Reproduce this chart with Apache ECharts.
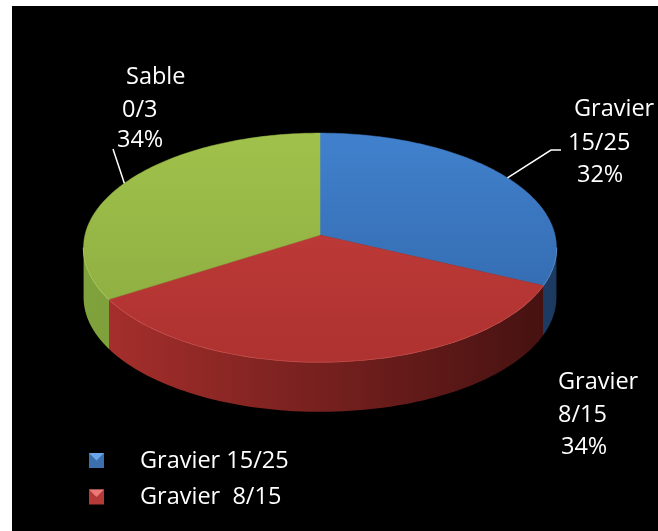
<!DOCTYPE html>
<html><head><meta charset="utf-8">
<script src="https://cdn.jsdelivr.net/npm/echarts@6/dist/echarts.min.js"></script>
<style>html,body{margin:0;padding:0;background:#fff}#c{width:658px;height:531px}</style>
</head><body><div id="c"></div>
<script>
// ---- data ----
const categories = ['Gravier 15/25', 'Gravier  8/15', 'Sable 0/3'];
const values = [32, 34, 34];
const legendItems = ['Gravier 15/25', 'Gravier  8/15'];

// ---- styles ----
const topColors = [['#4181cd', '#2f64a6'], ['#c63f3c', '#ae3230'], ['#a0c24b', '#8aa93f']];
const sideColors = [['#3a6aa8', '#1c3a60'], ['#aa302d', '#431110'], ['#80a23c', '#6d8a32']];
const rimColors = ['#6c9edc', '#d45f5c', '#b3d16a'];
const legendColors = [['#6aa6ec', '#3b6fae'], ['#ea7a77', '#b63a38']];

// ---- layout ----
const CX = 320, CY = 235, A = 235, B = 113, K = 0.109, D = 50;
const labelPos = [
  [[574, 109], [568, 143], [577, 175]],
  [[558, 382], [558, 415], [561, 447]],
  [[126, 77], [122, 110], [117, 140]]
];
const leaderEnds = [[[551, 150], [561, 150]], null, [[113, 149]]];
const FONT = '23.5px "Open Sans", sans-serif';

const total = values.reduce((a, b) => a + b, 0);
function proj(t) { const u = Math.cos(t), v = Math.sin(t), w = 1 - K * v; return [CX + A * u / w, CY + B * v / w]; }
function angles(i) {
  let c = 0; for (let j = 0; j < i; j++) c += values[j];
  const a0 = -Math.PI / 2 + 2 * Math.PI * c / total;
  return [a0, a0 + 2 * Math.PI * values[i] / total];
}
function arc(a0, a1, n) { const p = []; for (let k = 0; k <= n; k++) p.push(proj(a0 + (a1 - a0) * k / n)); return p; }

function renderSide(params, api) {
  const i = params.dataIndex; const [a0, a1] = angles(i);
  const lo = Math.max(a0, Math.asin(K)), hi = Math.min(a1, Math.PI - Math.asin(K));
  if (hi <= lo) return null;
  const top = arc(lo, hi, 80);
  const bot = top.slice().reverse().map(p => [p[0], p[1] + D]);
  return {
    type: 'group', children: [
      { type: 'polygon', shape: { points: top.concat(bot) },
        style: { fill: new echarts.graphic.LinearGradient(84, 0, 557, 0, [{ offset: 0, color: sideColors[i][0] }, { offset: 1, color: sideColors[i][1] }], true) } },
      { type: 'polyline', shape: { points: top }, style: { stroke: rimColors[i], lineWidth: 1.5, fill: null } }
    ]
  };
}

function renderTop(params, api) {
  const i = params.dataIndex; const [a0, a1] = angles(i);
  const pts = [[CX, CY]].concat(arc(a0, a1, 120));
  const grad = new echarts.graphic.LinearGradient(0, 133, 0, 362, [{ offset: 0, color: topColors[i][0] }, { offset: 1, color: topColors[i][1] }], true);
  const children = [{ type: 'polygon', shape: { points: pts }, style: { fill: grad, stroke: grad, lineWidth: 0.5 } }];
  const parts = categories[i].trim().split(/\s+/);
  const lines = parts.concat([Math.round(api.value(0) / total * 100) + '%']);
  lines.forEach((t, k) => {
    children.push({ type: 'text', x: labelPos[i][k][0], y: labelPos[i][k][1],
      style: { text: t, font: FONT, fill: '#ffffff', align: 'left', verticalAlign: 'middle' } });
  });
  if (leaderEnds[i]) {
    const start = proj((a0 + a1) / 2);
    children.push({ type: 'polyline', shape: { points: [start].concat(leaderEnds[i]) },
      style: { stroke: '#ffffff', lineWidth: 1.5, fill: null } });
  }
  return { type: 'group', children };
}

const seriesData = categories.map((c, i) => ({ name: c, value: values[i] }));

const legendEls = [];
legendItems.forEach((name, i) => {
  const y = 453 + 36.5 * i;
  legendEls.push({ type: 'rect', z: 100, shape: { x: 89, y: y, width: 15, height: 15 }, style: { fill: legendColors[i][1] } });
  legendEls.push({ type: 'polygon', z: 101, shape: { points: [[89, y], [104, y], [96.5, y + 7.5]] }, style: { fill: legendColors[i][0] } });
  legendEls.push({ type: 'text', z: 100, x: 140, y: y + 8, style: { text: name, font: FONT, fill: '#ffffff', align: 'left', verticalAlign: 'middle' } });
});

const chart = echarts.init(document.getElementById('c'), null, { renderer: 'canvas' });
chart.setOption({
  backgroundColor: '#ffffff',
  animation: false,
  graphic: { elements: [{ type: 'rect', z: 0, shape: { x: 12, y: 6, width: 646, height: 525 }, style: { fill: '#000000' } }].concat(legendEls) },
  series: [
    { type: 'custom', name: 'side', coordinateSystem: 'none', z: 2, silent: true, renderItem: renderSide, data: seriesData },
    { type: 'custom', name: 'top', coordinateSystem: 'none', z: 3, silent: true, renderItem: renderTop, data: seriesData }
  ]
});
</script></body></html>
